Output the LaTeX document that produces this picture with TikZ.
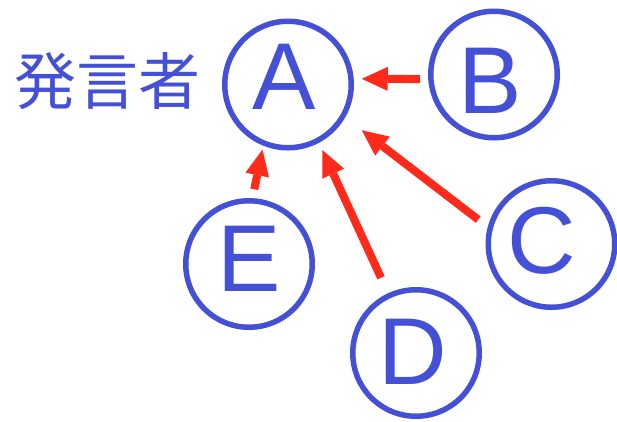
\documentclass[tikz,border=0pt]{standalone}
\usepackage{fontspec}
\setmainfont{Liberation Sans}
\newfontfamily\jpfont{Noto Sans CJK JP}
\usetikzlibrary{arrows.meta}
\definecolor{ringblue}{HTML}{4450D6}
\definecolor{arrowred}{HTML}{FF2A1A}

\begin{document}
\begin{tikzpicture}[
  x=1pt, y=-1pt,
  ring/.style={circle, draw=ringblue, line width=5.5pt, minimum size=126.5pt, inner sep=0pt},
  letter/.style={text=ringblue, inner sep=0pt, font=\fontsize{95}{95}\selectfont},
  reply/.style={-{Triangle[length=26pt,width=24pt,line width=0pt]}, draw=arrowred, line width=8pt}
]
\useasboundingbox (0,0) rectangle (617,421);

% speakers
\node[ring] (A) at (288,84.5) {};
\node[ring] (B) at (494,74.5) {};
\node[ring] (C) at (551.5,244) {};
\node[ring] (D) at (416,353) {};
\node[ring] (E) at (249,264) {};

\node[letter] (lA) at (284,77) {A};
\node[letter] (lB) at (490,80.5) {B};
\node[letter] (lC) at (542,241) {C};
\node[letter] (lD) at (413,352) {D};
\node[letter] (lE) at (249.5,258.5) {E};

\node[text=ringblue, inner sep=0pt, font=\jpfont\fontsize{62}{62}\selectfont] (spk) at (107,81) {発言者};

% everyone answers A
\draw[reply, shorten <=8pt, shorten >=8pt] (B.184) -- (A.5);
\draw[reply, shorten <=12pt, shorten >=21pt] (C.165) -- (A.330.2);
\draw[reply, shorten <=17pt, shorten >=8pt] (D.115.2) -- (A.298.6);
\draw[reply, shorten <=9pt, shorten >=4pt] (E.87.5) -- (A.248.6);
\end{tikzpicture}
\end{document}
